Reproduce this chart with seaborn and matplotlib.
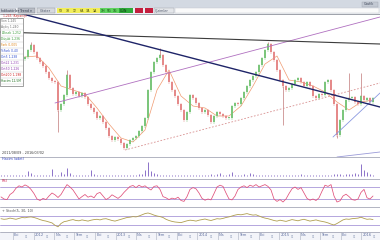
import numpy as np
import pandas as pd
import matplotlib
matplotlib.use("Agg")
import matplotlib.pyplot as plt
from matplotlib.patches import Rectangle
import seaborn as sns

sns.set_style("white")
plt.rcParams["font.family"] = ["DejaVu Sans"]

# ---------------- data ----------------
start_date = "2011-08-09"
step_hours = 321
n_points = 125

close = [100, 104, 98, 102, 106, 100, 98, 101,
         103, 110, 115, 108, 102, 98, 94, 88, 82, 79,
         78, 50, 56, 65, 85, 72, 66, 68, 64, 67,
         63, 56, 52, 48, 42, 44, 38, 32, 24, 20,
         23, 21, 17, 12, 16, 20, 22, 24, 29, 34,
         42, 70, 88, 98, 102, 105, 95, 88, 78, 70,
         64, 56, 50, 40, 48, 65, 62, 57, 52, 48,
         50, 45, 38, 44, 48, 46, 44, 42, 42, 54,
         57, 56, 62, 68, 74, 80, 84, 88, 95, 102,
         110, 116, 108, 100, 90, 80, 74, 70, 72, 76,
         80, 82, 78, 74, 78, 74, 64, 62, 66, 65,
         78, 80, 70, 56, 25, 40, 50, 60, 62, 63,
         58, 56, 64, 60, 62, 58, 62]

wick_idx = [10, 19, 22, 53, 89, 94, 112, 116, 120]
wick_val = [118, 28, 90, 112, 118, 35, 22, 87, 87]

ma_start, ma_step = 8, 4
ma_values = [103, 104, 92, 74, 70, 66, 52, 36, 22, 18, 30, 70, 90, 64, 54,
             52, 44, 44, 54, 74, 96, 104, 80, 78, 74, 68, 58, 50, 58, 60]

volume = [1.0, 0.8, 1.2, 0.9, 1.1, 1.4, 1.0, 0.8, 1.5, 5.0,
          3.0, 1.2, 1.0, 0.8, 1.0, 1.2, 1.5, 7.0, 1.4, 1.0,
          4.0, 1.6, 8.0, 3.0, 1.2, 1.0, 0.8, 1.0, 1.2, 1.5,
          6.0, 1.6, 1.0, 0.8, 0.9, 1.0, 1.2, 0.8, 1.0, 1.1,
          1.2, 1.4, 1.0, 1.2, 1.5, 1.3, 1.6, 2.0, 6.0, 14.0,
          5.0, 3.0, 1.8, 1.4, 1.2, 1.0, 0.9, 1.0, 0.8, 1.0,
          0.9, 1.1, 1.0, 1.2, 0.8, 1.0, 1.3, 1.0, 1.5, 1.2,
          1.6, 1.4, 2.0, 3.0, 1.4, 1.2, 1.6, 4.0, 1.5, 1.2,
          1.4, 1.8, 1.5, 3.0, 1.6, 1.2, 1.0, 1.2, 1.0, 0.9,
          1.0, 1.1, 0.9, 1.0, 1.2, 1.0, 0.8, 1.0, 1.1, 1.0,
          2.0, 1.0, 0.9, 1.1, 1.0, 1.2, 1.0, 0.8, 1.0, 1.4,
          1.2, 1.6, 1.8, 2.0, 1.5, 1.8, 2.2, 1.6, 3.0, 2.0,
          12.0, 6.0, 4.0, 2.0, 1.5]

rsi = [37, 30, 28, 45, 52, 66, 74, 70, 77, 72,
       62, 48, 30, 25, 32, 28, 40, 50, 44, 35,
       45, 62, 78, 70, 60, 45, 30, 38, 45, 36,
       40, 34, 48, 52, 40, 28, 34, 44, 38, 32,
       40, 52, 62, 72, 75, 68, 76, 70, 74, 66,
       60, 72, 74, 62, 38, 34, 28, 33, 30, 36,
       25, 22, 38, 62, 68, 64, 50, 32, 26, 30,
       27, 48, 70, 76, 72, 50, 30, 27, 40, 62,
       70, 74, 68, 76, 72, 78, 70, 74, 78, 72,
       60, 30, 22, 28, 20, 30, 48, 64, 70, 62,
       68, 50, 32, 26, 30, 25, 34, 56, 76, 72,
       78, 40, 20, 24, 40, 46, 38, 28, 26, 30,
       52, 62, 34, 30, 40]

stoch = [62, 58, 60, 66, 62, 58, 64, 70, 68, 72,
         74, 70, 64, 56, 50, 46, 40, 34, 18, 8,
         30, 42, 46, 52, 56, 50, 48, 54, 50, 46,
         52, 56, 58, 54, 60, 62, 56, 50, 46, 52,
         58, 64, 70, 72, 76, 74, 80, 88, 96, 100,
         94, 86, 80, 76, 70, 58, 50, 44, 40, 38,
         36, 42, 48, 52, 50, 46, 52, 56, 60, 54,
         50, 56, 62, 60, 64, 70, 74, 80, 86, 90,
         88, 92, 96, 90, 86, 88, 80, 72, 66, 62,
         56, 50, 46, 52, 48, 44, 50, 56, 52, 48,
         54, 58, 52, 46, 50, 54, 48, 44, 40, 34,
         26, 20, 30, 42, 54, 60, 58, 62, 64, 66,
         72, 64, 58, 60, 56]

# trend lines: (index0, value0, index1, value1)
trend_navy = (4.67, 148, 126.33, 53)
trend_gray = (-0.33, 128, 126.33, 116)
trend_purple = (18.0, 57, 126.33, 143)
trend_dotted = (41.33, 10, 126.33, 77)
trend_blue = (110.67, 23, 126.33, 67)
trend_low = (112.0, 3, 126.33, 8)

legend_items = [("Son 1,245", "#707070"), ("Açılış 1,240", "#707070"),
                ("Yüksek 1,252", "#3a9a3a"), ("Düşük 1,236", "#3a9a3a"),
                ("Fark 0,005", "#e08a20"), ("%Fark 0,40", "#3050d0"),
                ("Ort5 1,238", "#3050d0"), ("Ort22 1,231", "#9040b0"),
                ("Ort50 1,226", "#9040b0"), ("Ort200 1,198", "#d02020"),
                ("Hacim 12,5M", "#207020")]
month_names = {1: None, 4: "Nis", 7: "Tem", 10: "Eki"}

# ---------------- layout helpers ----------------
W, H = 380, 240
fig = plt.figure(figsize=(3.8, 2.4), dpi=100)
fig.patch.set_facecolor("white")


def panel(y_top, y_bot):
    ax = fig.add_axes([0, 1 - y_bot / H, 1, (y_bot - y_top) / H])
    ax.set_facecolor("white")
    for s in ax.spines.values():
        s.set_visible(False)
    ax.set_xticks([])
    ax.set_yticks([])
    ax.set_xlim(-1 / 3, 126.33)
    return ax


idx = np.arange(n_points)
start = pd.Timestamp(start_date)

# ---------------- price panel ----------------
axp = panel(14, 157)
axp.set_ylim(3, 146)
opens = [close[0]] + close[:-1]
for i in range(n_points):
    o, c = opens[i], close[i]
    col = "#7cc67c" if c >= o else "#e58a8a"
    lo, hi = min(o, c), max(o, c)
    axp.vlines(i, lo - 1.5, hi + 1.5, color=col, lw=0.35, zorder=3)
    axp.bar(i, max(hi - lo, 0.8), bottom=lo, width=0.42, color=col,
            linewidth=0, zorder=3)
for wi, wv in zip(wick_idx, wick_val):
    axp.vlines(wi, min(close[wi], wv), max(close[wi], wv), color="#c07878",
               lw=0.5, zorder=3)
ma_idx = np.arange(ma_start, ma_start + ma_step * len(ma_values), ma_step)
sns.lineplot(x=ma_idx, y=ma_values, ax=axp, color="#f09a70", lw=0.5, zorder=2)

for tl, col, lw, ls in [(trend_purple, "#b070c0", 0.6, "-"),
                        (trend_dotted, "#d89090", 0.6, (0, (2, 2))),
                        (trend_blue, "#8a98e0", 0.6, "-"),
                        (trend_low, "#9a9ad8", 0.6, "-"),
                        (trend_gray, "#3c3c3c", 0.8, "-"),
                        (trend_navy, "#1e2468", 1.0, "-")]:
    axp.plot([tl[0], tl[2]], [tl[1], tl[3]], color=col, lw=lw, ls=ls, zorder=4)

# ---------------- volume panel ----------------
axv = panel(157, 179)
axv.set_ylim(-3, 19)
axv.vlines(idx, 0, volume, color="#7a5cc0", lw=0.6)

# ---------------- RSI panel ----------------
axr = panel(179, 207)
axr.set_ylim(3.3, 96.7)
for lvl in (70, 30):
    axr.axhline(lvl, color="#a898d8", lw=0.6)
sns.lineplot(x=idx, y=rsi, ax=axr, color="#e0507a", lw=0.55)

# ---------------- Stoch panel ----------------
axs = panel(207, 232)
axs.set_ylim(-26.7, 140)
for lvl in (80, 20):
    axs.axhline(lvl, color="#a898d8", lw=0.6)
sns.lineplot(x=idx, y=stoch, ax=axs, color="#b09e50", lw=0.6)

# ---------------- date band ----------------
axd = panel(232, 240)
axd.set_facecolor("#f3f4f9")
axd.set_ylim(0, 1)
tick_dates = pd.date_range("2011-10-01", "2016-01-01", freq="QS")
tick_pos = (tick_dates - start) / pd.Timedelta(hours=step_hours)
axd.vlines(tick_pos, 0, 1, color="#b8bccb", lw=0.5)
for d, p in zip(tick_dates, tick_pos):
    lab = str(d.year) if d.month == 1 else month_names[d.month]
    axd.text(p + 0.4, 0.92, lab, fontsize=2.6, color="#6070a0", va="top", ha="left")
    axd.text(p + 4.0, 0.08, "01", fontsize=2.0, color="#8090b0", va="bottom", ha="left")

# ---------------- overlay (toolbar, legend, labels) ----------------
ov = fig.add_axes([0, 0, 1, 1], zorder=10)
ov.set_xlim(0, W)
ov.set_ylim(H, 0)
ov.axis("off")
ov.patch.set_alpha(0)

ov.add_patch(Rectangle((0, 0), W, 8, color="#d3d9e2", lw=0))
ov.add_patch(Rectangle((0, 8), W, 6, color="#eceef2", lw=0))
ov.plot([0, W], [14, 14], color="#8e939c", lw=0.6)
ov.add_patch(Rectangle((0, 8.3), 16, 5, color="#c9cdd5", lw=0))
ov.text(1, 10.8, "İndikatörler", fontsize=2.4, color="#30384a", va="center")
ov.add_patch(Rectangle((18, 8.3), 17, 5, facecolor="#b9bdc6", edgecolor="#7a7f88", lw=0.3))
ov.text(20, 10.8, "Trend ▾", fontsize=2.4, color="#30384a", va="center")
ov.add_patch(Rectangle((37, 8.3), 18, 5, facecolor="#d6d9de", edgecolor="#8a8f98", lw=0.3))
ov.text(40, 10.8, "Göster", fontsize=2.4, color="#50586a", va="center")
ov.add_patch(Rectangle((57, 8.3), 43, 5, color="#f2ee5a", lw=0))
for k, t in enumerate(["5Y", "3Y", "1Y", "6A", "3A", "1A"]):
    ov.text(59 + k * 6.8, 10.8, t, fontsize=2.3, color="#404000", va="center")
ov.add_patch(Rectangle((100, 8.3), 19, 5, color="#5fd35f", lw=0))
ov.add_patch(Rectangle((119, 8.3), 14, 5, color="#2eaa3a", lw=0))
for k, t in enumerate(["1H", "5G", "1G"]):
    ov.text(101 + k * 6, 10.8, t, fontsize=2.3, color="#0a400a", va="center")
ov.text(120, 10.8, "GÜN", fontsize=2.3, color="#0a300a", va="center")
ov.add_patch(Rectangle((135, 8.3), 8, 5, color="#c41e3e", lw=0))
ov.add_patch(Rectangle((145, 8.3), 8, 5, color="#c41e3e", lw=0))
ov.add_patch(Rectangle((154, 8.3), 20, 5, facecolor="#e4e6ea", edgecolor="#9a9ea6", lw=0.3))
ov.text(155, 10.8, "Çizimler", fontsize=2.4, color="#50586a", va="center")
ov.add_patch(Rectangle((175, 8.3), 204, 5, facecolor="#fafafa", edgecolor="#c0c4ca", lw=0.3))
ov.add_patch(Rectangle((362, 1.5), 16, 5, facecolor="#c3c9d3", edgecolor="#a0a6b0", lw=0.3))
ov.text(364, 4.1, "Grafik", fontsize=2.4, color="#40485a", va="center")

ov.text(3, 16.2, "1,245 (Kapanış)", fontsize=2.2, color="#d03030", va="center")

# legend box
ov.add_patch(Rectangle((0, 18), 23, 68, facecolor="white", edgecolor="#7a7a7a", lw=0.5))
for k, (t, col) in enumerate(legend_items):
    yy = 21 + k * 6
    ov.text(1, yy, t, fontsize=2.2, color=col, va="center")
    ov.plot([0, 23], [yy + 3, yy + 3], color="#c8c8c8", lw=0.3)

# panel separators and labels
for yy in (157, 179, 207, 232):
    ov.plot([0, W], [yy, yy], color="#a6a8b8", lw=0.6)
ov.text(2, 152.5, "2011/08/09 - 2016/03/02", fontsize=2.4, color="#404040", va="center")
ov.text(2, 159.5, "Hacim (adet)", fontsize=2.4, color="#3040c0", va="center")
ov.text(2, 181.5, "RSI", fontsize=2.4, color="#d02050", va="center")
ov.text(2, 210.5, "+ Stoch(5, 30, 10)", fontsize=2.4, color="#505050", va="center")

fig.savefig("out.png", dpi=100)
